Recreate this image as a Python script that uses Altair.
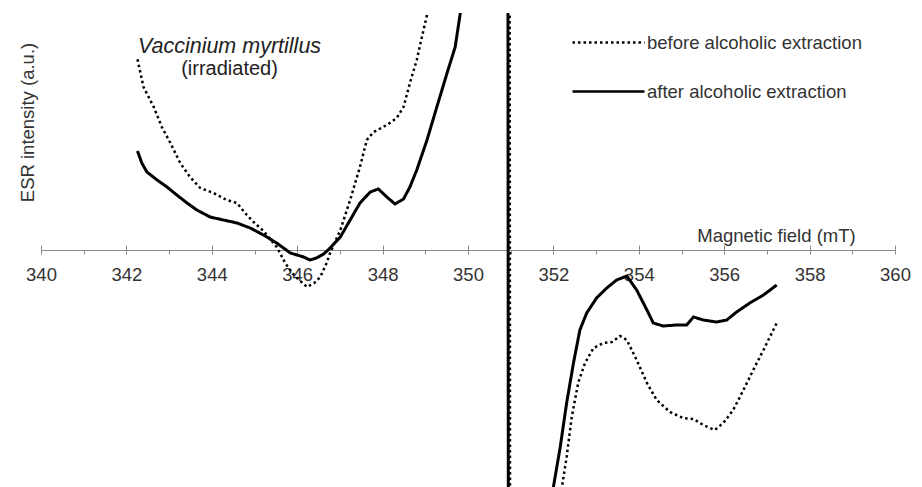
import altair as alt
import pandas as pd

# ---- data (field in mT, intensity in arbitrary units) ----
series_names = ["before alcoholic extraction", "after alcoholic extraction"]

before_x = [342.26, 342.40, 342.64, 342.83, 343.03, 343.26, 343.49, 343.73, 344.04, 344.35,
            344.59, 344.82, 344.98, 345.21, 345.52, 345.72, 345.90, 346.07, 346.23, 346.40,
            346.54, 346.69, 346.77, 347.01, 347.24, 347.47, 347.63, 347.79, 348.10, 348.33,
            348.49, 348.64, 348.80, 348.92, 349.04, 349.12, 350.97, 350.99, 352.12, 352.20,
            352.31, 352.43, 352.58, 352.74, 352.94, 353.17, 353.37, 353.56, 353.72, 353.95,
            354.19, 354.42, 354.73, 355.04, 355.28, 355.51, 355.78, 355.98, 356.21, 356.45,
            356.68, 356.92, 357.23]
before_y = [190.7, 163, 143, 123, 107, 87, 73, 62, 57, 50,
            47, 35, 28, 19, 3, -13, -24, -31, -37, -33,
            -27, -13, -3, 20, 50, 83, 110, 118, 125, 132,
            143, 167, 190, 213, 235, 262, 700, -700, -262, -237,
            -207, -167, -133, -113, -98, -93, -92, -86, -90, -110,
            -133, -150, -162, -168, -169, -175, -180, -173, -160, -140,
            -120, -100, -73]

after_x = [342.26, 342.36, 342.48, 342.72, 342.95, 343.18, 343.42, 343.65, 343.96, 344.27,
           344.59, 344.90, 345.21, 345.52, 345.84, 346.15, 346.30, 346.45, 346.62, 346.77,
           347.01, 347.24, 347.47, 347.71, 347.90, 348.10, 348.29, 348.49, 348.64, 348.80,
           349.04, 349.27, 349.51, 349.70, 349.82, 349.90, 350.93, 350.95, 351.92, 352.00,
           352.16, 352.31, 352.47, 352.62, 352.78, 353.01, 353.25, 353.48, 353.72, 353.95,
           354.19, 354.34, 354.57, 354.89, 355.12, 355.28, 355.51, 355.82, 356.06, 356.29,
           356.60, 356.92, 357.23]
after_y = [99, 87, 78, 70, 63, 55, 47, 40, 33, 30,
           27, 22, 15, 7, -3, -7, -10, -8, -4, 2,
           13, 30, 47, 58, 61, 53, 46, 51, 63, 80,
           110, 143, 177, 203, 237, 262, 600, -600, -257, -237,
           -197, -153, -113, -80, -63, -48, -38, -30, -26, -40,
           -60, -73, -76, -75, -75, -67, -70, -72, -70, -62,
           -53, -45, -35]

x_ticks = list(range(340, 361))
x_major = list(range(340, 361, 2))

df = pd.concat([
    pd.DataFrame({"field": before_x, "intensity": before_y, "series": series_names[0]}),
    pd.DataFrame({"field": after_x, "intensity": after_y, "series": series_names[1]}),
], ignore_index=True)

FONT = "Liberation Sans"
TXT = "#333333"
AXC = "#8a8a8a"

x_scale = alt.Scale(domain=[340, 360], nice=False, zero=False)
y_scale = alt.Scale(domain=[-237, 237], nice=False, zero=False)

y_axis = alt.Axis(title="ESR intensity (a.u.)", domain=False, ticks=False, labels=False,
                  grid=False, titleX=-14, titleY=109, titleAlign="center",
                  titleBaseline="middle", titleFont=FONT, titleFontSize=18.5,
                  titleFontWeight="normal", titleColor=TXT)

bottom_axis = alt.Axis(orient="bottom", offset=-237, values=x_ticks, format="d",
                       labelExpr="datum.value % 2 === 0 ? datum.label : ''",
                       labelFlush=False, labelOverlap=False, grid=False,
                       domainColor=AXC, domainWidth=1, tickColor=AXC, tickSize=4,
                       tickWidth=1, labelFont=FONT, labelFontSize=18.5, labelColor=TXT,
                       labelBaseline="alphabetic", labelPadding=26,
                       title="Magnetic field (mT)", titleFont=FONT, titleFontSize=18.5,
                       titleFontWeight="normal", titleColor=TXT, titleX=735, titleY=-9,
                       titleAlign="center", titleBaseline="alphabetic")

top_axis = alt.Axis(orient="top", offset=-237, values=x_major, labels=False, domain=False,
                    grid=False, tickColor=AXC, tickSize=5, tickWidth=1, title=None)

legend = alt.Legend(title=None, orient="none", legendX=578, legendY=16,
                    symbolType="M-5,0H1", symbolSize=576, symbolStrokeColor="black",
                    symbolStrokeWidth=2.5, symbolOffset=0, labelOffset=1,
                    labelFont=FONT, labelFontSize=18.5, labelColor=TXT, labelLimit=400,
                    rowPadding=26, padding=0)

dash = alt.StrokeDash("series:N",
                      scale=alt.Scale(domain=series_names, range=[[2.5, 3], [1, 0]]),
                      legend=legend)

base = alt.Chart(df)

before_layer = base.transform_filter(
    alt.datum.series == series_names[0]
).mark_line(color="black", strokeWidth=2.5, clip=True).encode(
    x=alt.X("field:Q", scale=x_scale, axis=bottom_axis),
    y=alt.Y("intensity:Q", scale=y_scale, axis=y_axis),
    strokeDash=dash,
)

after_layer = base.transform_filter(
    alt.datum.series == series_names[1]
).mark_line(color="black", strokeWidth=3, clip=True).encode(
    x=alt.X("field:Q", scale=x_scale, axis=top_axis),
    y=alt.Y("intensity:Q", scale=y_scale, axis=y_axis),
    strokeDash=dash,
)

chart = alt.layer(before_layer, after_layer).resolve_axis(x="independent").properties(
    width=854,
    height=474,
    padding={"left": 41, "top": 13, "right": 27, "bottom": 0},
    autosize=alt.AutoSizeParams(type="none"),
    background="white",
    title=alt.TitleParams(text="Vaccinium myrtillus", subtitle="(irradiated)",
                          anchor="start", frame="group", align="center", dx=188.5,
                          dy=66, offset=0, font=FONT, fontSize=21.5, fontStyle="italic",
                          fontWeight="normal", color="#222222", subtitleFont=FONT,
                          subtitleFontSize=20, subtitleFontStyle="normal",
                          subtitleColor="#222222", subtitlePadding=2),
).configure_view(stroke=None)

chart.save("out.html", embed_options={"renderer": "svg", "actions": False})
